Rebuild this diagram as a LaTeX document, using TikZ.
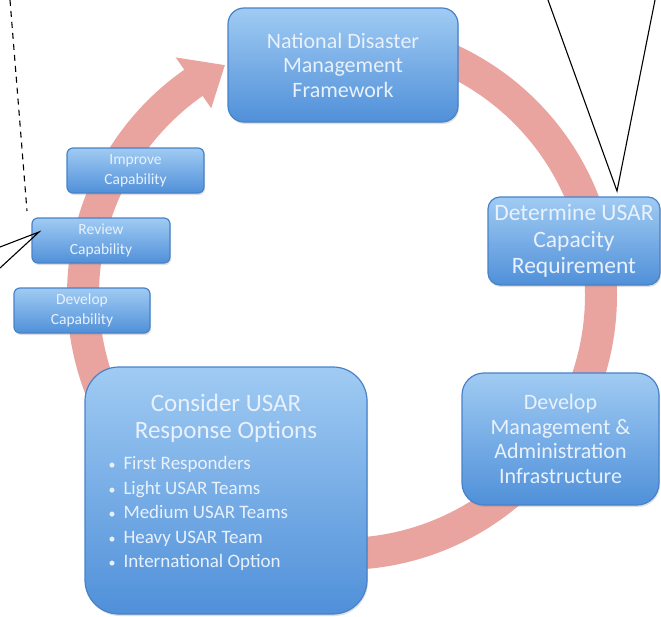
\documentclass[tikz,border=0pt]{standalone}
\usepackage{fontspec}
\setmainfont{Carlito}
\usetikzlibrary{calc,shadows}

\definecolor{ringred}{RGB}{234,164,160}
\definecolor{boxtop}{RGB}{160,203,243}
\definecolor{boxbot}{RGB}{80,144,217}
\definecolor{boxline}{RGB}{72,130,200}
\definecolor{boxtext}{RGB}{232,241,252}

\newcommand{\optbullet}{{\fontsize{14}{14}\selectfont\textbullet}\hspace{8pt}}

\tikzset{
  stage/.style={draw=boxline, line width=1.2pt, top color=boxtop, bottom color=boxbot,
    text=boxtext, align=center, inner sep=0pt,
    drop shadow={opacity=0.25, shadow xshift=1pt, shadow yshift=-2pt}},
  smallstage/.style={stage, rounded corners=6pt, minimum height=45pt,
    font=\fontsize{15.5}{20}\selectfont},
  callout/.style={black, line width=1.1pt},
}

\begin{document}
\begin{tikzpicture}[x=1pt,y=-1pt]
    \useasboundingbox (0,0) rectangle (661,616);
    \coordinate (c) at (342,295);
    % the cycle arrow
    \draw[ringred, line width=32pt] ($(c)+(270:259)$) arc[start angle=270, end angle=596, radius=259];
    \fill[ringred] ($(c)+(595:228)$) -- ($(c)+(603:258)$) -- ($(c)+(595:290)$) -- cycle;
    % stages
    \node (ndmf) at (343,65) [stage, rounded corners=16pt, minimum width=230pt, minimum height=114pt,
        font=\fontsize{22}{24.5}\selectfont] {National Disaster\\Management\\Framework};
    \node (capacity) at (574,241) [stage, rounded corners=12pt, minimum width=172pt, minimum height=88pt,
        font=\fontsize{23.5}{26.5}\selectfont] {Determine USAR\\Capacity\\Requirement};
    \node (infra) at (560.5,439) [stage, rounded corners=22pt, minimum width=197pt, minimum height=132pt,
        font=\fontsize{22}{24.5}\selectfont] {Develop\\Management \&\\Administration\\Infrastructure};
    \node (options) at (226,490.5) [stage, rounded corners=34pt, minimum width=282pt, minimum height=247pt] {};
    \node (optitle) at (226,418) [text=boxtext, align=center, font=\fontsize{25}{27}\selectfont]
        {Consider USAR\\Response Options};
    \node (oplist) at (105,453) [anchor=north west, text=boxtext, align=left, font=\fontsize{19}{24.5}\selectfont]
        {\optbullet First Responders\\
         \optbullet Light USAR Teams\\
         \optbullet Medium USAR Teams\\
         \optbullet Heavy USAR Team\\
         \optbullet International Option};
    \node (improve) at (135.5,170.5) [smallstage, minimum width=137pt] {Improve\\Capability};
    \node (review) at (101,240.5) [smallstage, minimum width=138pt] {Review\\Capability};
    \node (develop) at (82,310.5) [smallstage, minimum width=136pt] {Develop\\Capability};
    % callout lines
    \coordinate (dashtop) at (10,0);
    \coordinate (dashend) at (27,211);
    \coordinate (revtip) at (39,232);
    \coordinate (revup) at (0,247);
    \coordinate (revdown) at (0,268);
    \coordinate (captip) at (617,191);
    \coordinate (capleft) at (548,0);
    \coordinate (capright) at (655,0);
    \draw[callout, dash pattern=on 6pt off 5pt] (dashtop) -- (dashend);
    \draw[callout] (revup) -- (revtip) -- (revdown);
    \draw[callout] (capleft) -- (captip) -- (capright);
\end{tikzpicture}
\end{document}
